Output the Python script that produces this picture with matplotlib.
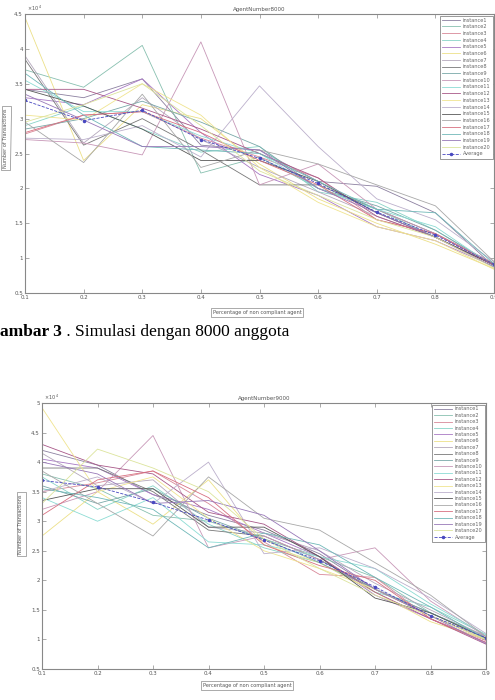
import matplotlib.pyplot as plt
import numpy as np

# percentage of non compliant agents
x = [0.1, 0.2, 0.3, 0.4, 0.5, 0.6, 0.7, 0.8, 0.9]

# number of transactions, in units of 10^4
inst8000 = [
    [3.42, 3.30, 3.57, 2.62, 2.55, 2.10, 2.03, 1.65, 0.88],
    [3.70, 3.45, 4.05, 2.22, 2.45, 2.00, 1.70, 1.30, 0.90],
    [2.78, 3.05, 3.10, 2.72, 2.45, 2.15, 1.55, 1.35, 0.92],
    [2.90, 3.18, 2.85, 2.52, 2.60, 1.95, 1.80, 1.40, 0.90],
    [3.30, 3.20, 3.57, 2.80, 2.20, 1.90, 1.45, 1.25, 0.88],
    [4.45, 2.40, 3.20, 3.00, 2.35, 1.85, 1.50, 1.20, 0.85],
    [3.90, 2.65, 3.30, 2.70, 2.30, 1.95, 1.60, 1.30, 0.90],
    [3.85, 2.62, 3.00, 2.55, 2.05, 2.05, 1.70, 1.35, 0.92],
    [2.85, 3.00, 3.25, 2.95, 2.60, 2.00, 1.75, 1.40, 0.90],
    [2.70, 2.65, 2.48, 4.10, 2.05, 2.35, 1.70, 1.35, 0.93],
    [3.55, 3.10, 3.10, 2.75, 2.50, 2.00, 1.70, 1.45, 0.88],
    [3.42, 3.42, 3.15, 2.85, 2.50, 2.15, 1.60, 1.30, 0.90],
    [3.05, 2.98, 3.50, 3.05, 2.30, 1.80, 1.45, 1.25, 0.84],
    [2.72, 2.70, 2.90, 2.45, 3.47, 2.60, 1.85, 1.55, 0.95],
    [3.42, 3.18, 2.85, 2.40, 2.40, 2.10, 1.65, 1.30, 0.90],
    [2.95, 2.37, 3.35, 2.30, 2.55, 2.35, 2.05, 1.75, 0.95],
    [2.80, 3.05, 3.10, 2.80, 2.40, 2.05, 1.55, 1.35, 0.90],
    [3.65, 3.05, 2.60, 2.55, 2.50, 2.10, 1.70, 1.65, 0.92],
    [3.35, 2.98, 2.60, 2.60, 2.55, 2.00, 1.65, 1.30, 0.87],
    [2.95, 3.20, 3.50, 2.90, 2.25, 1.90, 1.55, 1.30, 0.86],
]
avg8000 = [3.26, 2.97, 3.12, 2.70, 2.43, 2.07, 1.66, 1.33, 0.91]

inst9000 = [
    [4.20, 3.95, 3.45, 3.10, 2.85, 2.45, 1.85, 1.45, 1.05],
    [3.80, 3.55, 3.10, 3.00, 2.70, 2.40, 2.05, 1.45, 1.05],
    [3.50, 3.65, 3.85, 3.30, 2.65, 2.10, 2.05, 1.35, 0.98],
    [3.75, 3.20, 3.60, 2.95, 2.55, 2.30, 1.80, 1.55, 1.08],
    [4.05, 3.90, 3.45, 3.20, 2.80, 2.40, 1.75, 1.35, 0.95],
    [2.75, 3.50, 2.95, 3.70, 2.60, 2.30, 1.80, 1.30, 1.00],
    [4.15, 3.60, 3.70, 2.90, 2.80, 2.50, 1.95, 1.50, 1.05],
    [3.90, 3.90, 3.50, 2.85, 2.75, 2.35, 1.85, 1.40, 1.00],
    [3.60, 3.30, 3.55, 3.05, 2.70, 2.30, 1.85, 1.45, 1.02],
    [3.20, 3.50, 4.45, 2.55, 2.75, 2.35, 2.55, 1.65, 1.05],
    [3.40, 3.00, 3.40, 2.65, 2.60, 2.40, 2.20, 1.60, 1.08],
    [4.30, 3.95, 3.80, 3.15, 2.95, 2.40, 1.80, 1.35, 0.92],
    [4.92, 3.50, 3.75, 3.05, 2.50, 2.20, 1.85, 1.40, 1.00],
    [3.50, 3.75, 3.30, 4.00, 2.45, 2.55, 2.20, 1.70, 1.10],
    [3.35, 3.55, 3.55, 2.90, 2.90, 2.40, 1.70, 1.45, 1.02],
    [3.85, 3.30, 2.75, 3.75, 3.05, 2.85, 2.30, 1.75, 1.05],
    [3.10, 3.70, 3.85, 3.40, 2.60, 2.25, 2.00, 1.35, 0.95],
    [3.55, 3.40, 3.20, 2.55, 2.80, 2.60, 2.05, 1.55, 1.00],
    [4.00, 3.80, 3.30, 3.35, 3.10, 2.50, 1.85, 1.40, 0.93],
    [3.30, 4.22, 3.90, 3.50, 2.70, 2.20, 1.75, 1.40, 1.00],
]
avg9000 = [3.69, 3.58, 3.32, 3.02, 2.68, 2.33, 1.89, 1.40, 1.03]

colors = ['#8c80a0', '#88c0b0', '#d88898', '#88d4c8', '#a878c4', '#ece088',
          '#b4a8bc', '#787878', '#78a8a8', '#c898b8', '#8cdcd4', '#a85888',
          '#f0e490', '#bcb0cc', '#585858', '#a8a8a8', '#d87080', '#70b8b8',
          '#9878b8', '#dce49c']
labels = ['instance%d' % (i + 1) for i in range(20)]
grey = '#888888'


def draw(rect, insts, avg, ymax, title, xlab_pos, ylab_pos, spacing):
    ax = fig.add_axes(rect)
    for i in range(20):
        ax.plot(x, insts[i], color=colors[i], lw=0.6, label=labels[i])
    ax.plot(x, avg, '--', color='#4848c0', lw=0.6, marker='.', ms=3,
            label='Average')
    yt = np.arange(0.5, ymax + 0.01, 0.5)
    ax.set_xlim(0.1, 0.9)
    ax.set_ylim(0.5, ymax)
    ax.set_xticks(x)
    ax.set_yticks(yt)
    ax.set_xticklabels(['%g' % v for v in x])
    ax.set_yticklabels(['%g' % v for v in yt])
    ax.tick_params(direction='in', length=3, width=0.5, color=grey,
                   labelsize=4, labelcolor='#555555', top=True, right=True,
                   pad=1.5)
    for s in ax.spines.values():
        s.set_color(grey)
        s.set_linewidth(0.8)
    ax.set_title(title, fontsize=4, color='#555555', pad=2)
    ax.text(0.005, 1.005, r'$\times\,10^4$', transform=ax.transAxes,
            fontsize=3.5, color='#555555', va='bottom')
    leg = ax.legend(loc='upper right', fontsize=3.6, labelspacing=spacing,
                    handlelength=3.6, handletextpad=0.5, borderpad=0.4,
                    fancybox=False, framealpha=1, borderaxespad=0.3)
    leg.get_frame().set_edgecolor(grey)
    leg.get_frame().set_linewidth(0.6)
    for t in leg.get_texts():
        t.set_color('#666666')
    box = dict(boxstyle='square,pad=0.4', fc='white', ec=grey, lw=0.5)
    fig.text(xlab_pos[0] / 495, 1 - xlab_pos[1] / 700,
             'Percentage of non compliant agent', fontsize=3.6,
             color='#555555', ha='center', va='center', bbox=box)
    fig.text(ylab_pos[0] / 495, 1 - ylab_pos[1] / 700,
             'Number of Transactions', fontsize=3.6, rotation=90,
             color='#555555', ha='center', va='center', bbox=box)
    return ax


fig = plt.figure(figsize=(4.95, 7), dpi=100)

draw([25 / 495, 1 - 293 / 700, 469 / 495, 279 / 700], inst8000, avg8000,
     4.5, 'AgentNumber8000', (257, 313), (6, 138), 0.34)
draw([42 / 495, 1 - 669 / 700, 444 / 495, 266 / 700], inst9000, avg9000,
     5.0, 'AgentNumber9000', (247, 685), (21, 524), 0.28)

# caption between the two charts
t1 = fig.text(0.0, 1 - 336 / 700, 'ambar 3', fontsize=12.5,
              family='Liberation Serif', weight='bold', va='baseline')
fig.add_artist(plt.Annotation(' . Simulasi dengan 8000 anggota', xy=(1, 0),
                              xycoords=t1, va='bottom', fontsize=12.5,
                              family='Liberation Serif'))

fig.savefig('out.png', dpi=100)
